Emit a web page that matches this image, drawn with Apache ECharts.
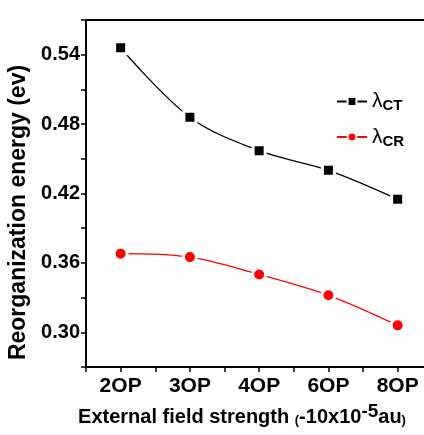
<!DOCTYPE html>
<html><head><meta charset="utf-8">
<script src="https://cdn.jsdelivr.net/npm/echarts@6/dist/echarts.min.js"></script>
<style>html,body{margin:0;padding:0;background:#fff}#c{width:424px;height:435px}</style>
</head><body><div id="c"></div>
<script>
const categories = ['2OP','3OP','4OP','6OP','8OP'];
const lambdaCT = [0.546, 0.486, 0.457, 0.440, 0.415];
const lambdaCR = [0.368, 0.365, 0.350, 0.332, 0.306];
const yTickLabels = [0.30, 0.36, 0.42, 0.48, 0.54];

const FONT = '"Liberation Sans", Arial, sans-serif';
const chart = echarts.init(document.getElementById('c'));
const pts = arr => arr.map((v, i) => [i + 2, v]);

chart.setOption({
  animation: false,
  backgroundColor: '#fff',
  grid: { left: 86, top: 20, right: 0, bottom: 68, containLabel: false, outerBoundsMode: 'none' },
  xAxis: [{
    type: 'value', min: 1.5, max: 6.38, interval: 0.5,
    axisLine: { show: true, lineStyle: { color: '#000', width: 2 } },
    axisTick: { show: true, inside: false, length: 5, lineStyle: { color: '#000', width: 1.5 } },
    splitLine: { show: false },
    axisLabel: {
      showMaxLabel: false, margin: 9,
      color: '#000', fontFamily: FONT, fontWeight: 'bold', fontSize: 21,
      formatter: v => {
        const r = Math.round(v);
        return Math.abs(v - r) < 1e-6 && categories[r - 2] ? categories[r - 2] : '';
      }
    },
    name: '{a|External field strength }{p|(}{a|-10x10}{c|-5}{a|au}{p|)}',
    nameLocation: 'middle', nameGap: 35,
    nameTextStyle: {
      color: '#000', fontFamily: FONT, padding: [0, 26, 0, 0],
      rich: {
        a: { fontSize: 20, fontWeight: 'bold', color: '#000', fontFamily: FONT },
        p: { fontSize: 13, fontWeight: 'bold', color: '#000', fontFamily: FONT, padding: [6, 0, 0, 0] },
        c: { fontSize: 19, fontWeight: 'bold', color: '#000', fontFamily: FONT, padding: [0, 0, 12, 0] }
      }
    }
  }, {
    type: 'value', position: 'top', min: 1.5, max: 6.38,
    axisLine: { show: true, lineStyle: { color: '#000', width: 2 } },
    axisTick: { show: false }, axisLabel: { show: false }, splitLine: { show: false }
  }],
  yAxis: {
    type: 'value', min: 0.27, max: 0.57, interval: 0.03,
    axisLine: { show: true, lineStyle: { color: '#000', width: 2 } },
    axisTick: { show: true, length: 5, lineStyle: { color: '#000', width: 1.5 } },
    splitLine: { show: false },
    axisLabel: {
      margin: 6, color: '#000', fontFamily: FONT, fontWeight: 'bold', fontSize: 20,
      formatter: v => yTickLabels.some(t => Math.abs(t - v) < 1e-6) ? v.toFixed(2) : ''
    },
    name: 'Reorganization energy (ev)',
    nameLocation: 'middle', nameGap: 55, nameRotate: 90,
    nameTextStyle: { color: '#000', fontFamily: FONT, fontWeight: 'bold', fontSize: 23, padding: [0, 38, 0, 0] }
  },
  legend: {
    orient: 'vertical', left: 331, top: 86, itemGap: 13,
    itemWidth: 30, itemHeight: 11,
    data: ['CT', 'CR'],
    formatter: n => '{l|λ}{s|' + n + '}',
    textStyle: {
      fontFamily: FONT, color: '#000',
      rich: {
        l: { fontSize: 21, color: '#000', fontFamily: FONT },
        s: { fontSize: 15, fontWeight: 'bold', color: '#000', fontFamily: FONT, padding: [9, 0, 0, 0] }
      }
    }
  },
  series: [{
    name: 'CT', type: 'line', data: pts(lambdaCT), smooth: 0.35,
    symbol: 'rect', symbolSize: 12,
    lineStyle: { color: '#000', width: 1.3 },
    itemStyle: { color: '#000', borderColor: '#fff', borderWidth: 3 }
  }, {
    name: 'CR', type: 'line', data: pts(lambdaCR), smooth: 0.35,
    symbol: 'circle', symbolSize: 13,
    lineStyle: { color: '#f00', width: 1.3 },
    itemStyle: { color: '#f00', borderColor: '#fff', borderWidth: 3 }
  }]
});
</script></body></html>
